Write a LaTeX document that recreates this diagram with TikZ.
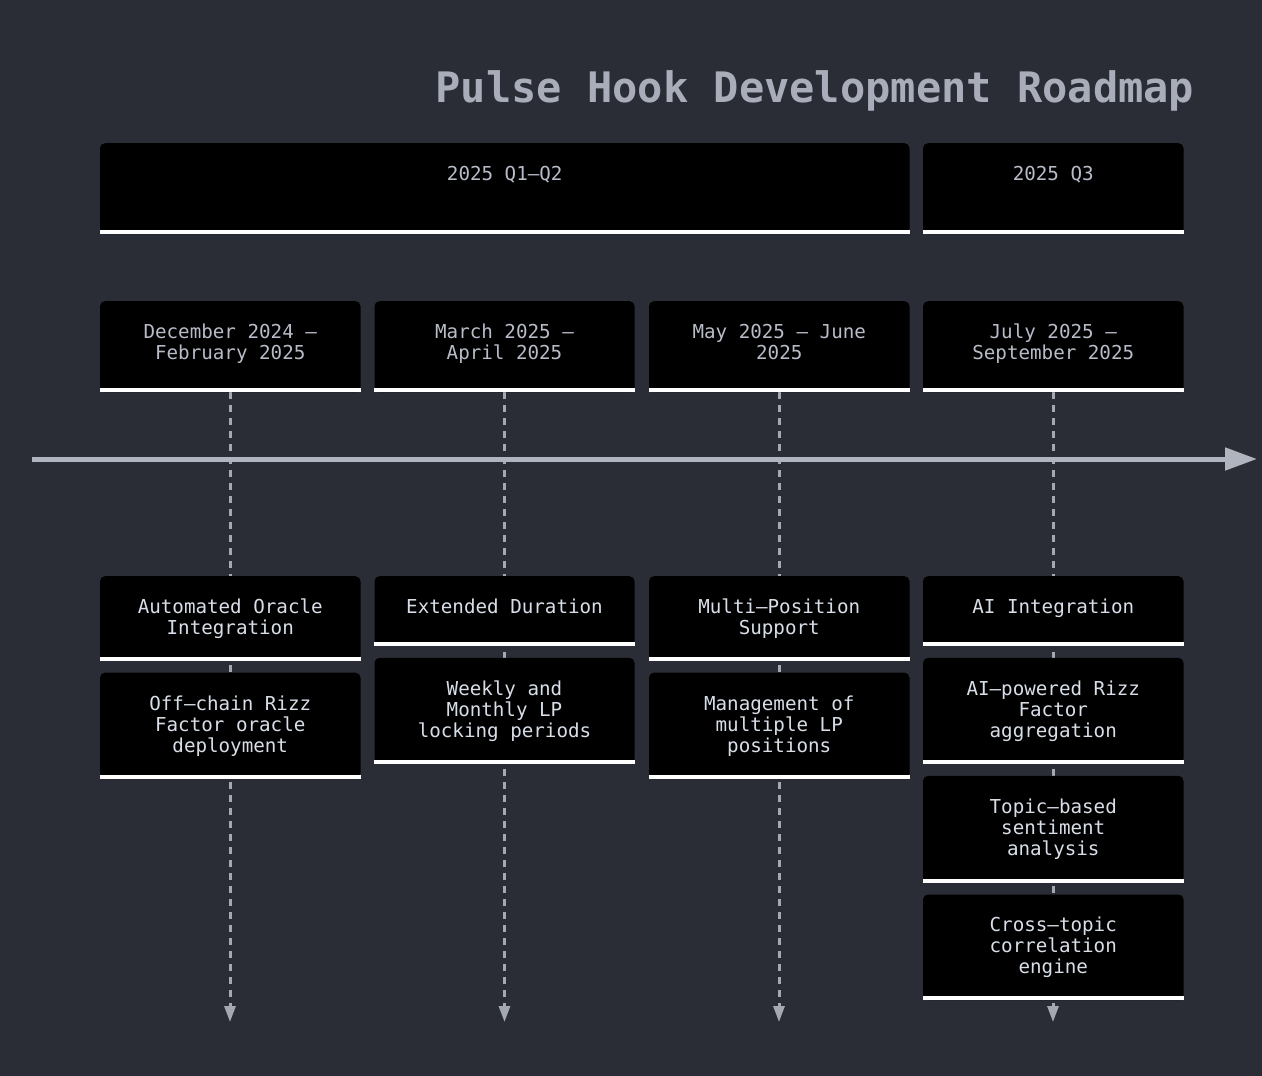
\documentclass[tikz,border=0pt]{standalone}
\usepackage{fontspec}
\setmonofont{DejaVu Sans Mono}
\usetikzlibrary{arrows.meta}
\definecolor{bgc}{HTML}{2A2D35}
\definecolor{titlec}{HTML}{A9ADBA}
\definecolor{headc}{HTML}{B8BCC8}
\definecolor{taskc}{HTML}{D8DEE8}
\definecolor{axisc}{HTML}{B0B4BE}
\definecolor{dashc}{HTML}{A4A8B2}
\tikzset{
  boxshape/.style={fill=black, rounded corners=5pt, inner sep=0pt, anchor=north, minimum width=260.5pt},
  headtext/.style={font=\ttfamily\fontsize{19.2}{21}\selectfont, text=headc, align=center, anchor=base, inner sep=0pt},
  tasktext/.style={font=\ttfamily\fontsize{19.2}{21}\selectfont, text=taskc, align=center, anchor=base, inner sep=0pt},
  underline/.style={white, line width=4pt},
  guide/.style={dashc, line width=3pt, dash pattern=on 7pt off 6pt, -{Triangle[length=16pt,width=11pt]}},
}
% #1 name, #2 x-centre, #3 top, #4 bottom, #5 width, #6 style, #7 number of lines, #8 text
\newcommand{\rmbox}[8]{%
  \node[boxshape, minimum width=#5pt, minimum height={(#4)-(#3)}] (#1) at (#2,#3) {};
  \draw[underline] ([yshift=2pt]#1.south west) -- ([yshift=2pt]#1.south east);
  \node[#6] (#1t) at (#2,{#3+37.5+(#7-1)*21}) {#8};
}
\begin{document}
\begin{tikzpicture}[x=1pt,y=-1pt]
\fill[bgc] (0,0) rectangle (1262,1076);
\useasboundingbox (0,0) rectangle (1262,1076);

\node[font=\ttfamily\bfseries\fontsize{42}{48}\selectfont, text=titlec, anchor=base, inner sep=0pt] (title) at (815,102) {Pulse Hook Development Roadmap};

% guides (behind boxes)
\coordinate (e1) at (230,1022);
\coordinate (e2) at (504.5,1022);
\coordinate (e3) at (779,1022);
\coordinate (e4) at (1053,1022);
\coordinate (p1s) at (230,392);
\coordinate (p2s) at (504.5,392);
\coordinate (p3s) at (779,392);
\coordinate (p4s) at (1053,392);
\draw[guide] (p1s) -- (e1);
\draw[guide] (p2s) -- (e2);
\draw[guide] (p3s) -- (e3);
\draw[guide] (p4s) -- (e4);

% axis
\coordinate (ax0) at (32,459);
\coordinate (ax1) at (1257,459);
\draw[axisc, line width=5pt, -{Triangle[length=32pt,width=22pt]}] (ax0) -- (ax1);

% sections
\rmbox{s1}{504.75}{143}{234}{809.5}{headtext}{1}{2025 Q1–Q2}
\rmbox{s2}{1053.25}{143}{234}{260.5}{headtext}{1}{2025 Q3}

% periods
\rmbox{p1}{230.25}{301}{392}{260.5}{headtext}{2}{December 2024 –\\February 2025}
\rmbox{p2}{504.5}{301}{392}{260}{headtext}{2}{March 2025 –\\April 2025}
\rmbox{p3}{779.25}{301}{392}{260.5}{headtext}{2}{May 2025 – June\\2025}
\rmbox{p4}{1053.25}{301}{392}{260.5}{headtext}{2}{July 2025 –\\September 2025}

% tasks column 1
\rmbox{a1}{230.25}{576}{660.5}{260.5}{tasktext}{2}{Automated Oracle\\Integration}
\rmbox{a2}{230.25}{672.5}{778.3}{260.5}{tasktext}{3}{Off–chain Rizz\\Factor oracle\\deployment}
% column 2
\rmbox{b1}{504.5}{576}{645.7}{260}{tasktext}{1}{Extended Duration}
\rmbox{b2}{504.5}{657.7}{763.7}{260}{tasktext}{3}{Weekly and\\Monthly LP\\locking periods}
% column 3
\rmbox{c1}{779.25}{576}{660.5}{260.5}{tasktext}{2}{Multi–Position\\Support}
\rmbox{c2}{779.25}{672.5}{778.3}{260.5}{tasktext}{3}{Management of\\multiple LP\\positions}
% column 4
\rmbox{d1}{1053.25}{576}{645.7}{260.5}{tasktext}{1}{AI Integration}
\rmbox{d2}{1053.25}{657.7}{763.7}{260.5}{tasktext}{3}{AI–powered Rizz\\Factor\\aggregation}
\rmbox{d3}{1053.25}{775.7}{882.3}{260.5}{tasktext}{3}{Topic–based\\sentiment\\analysis}
\rmbox{d4}{1053.25}{894.3}{1000}{260.5}{tasktext}{3}{Cross–topic\\correlation\\engine}
\end{tikzpicture}
\end{document}
